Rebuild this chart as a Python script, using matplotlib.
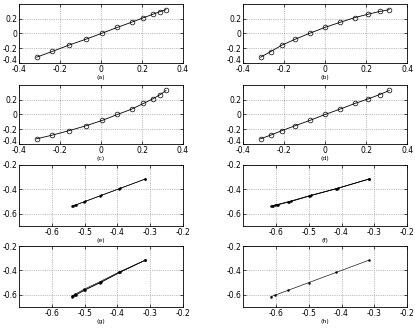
import matplotlib.pyplot as plt

# circle-marker panels (a)-(d)
xa = [-0.315, -0.238, -0.157, -0.073, 0.005, 0.080, 0.149, 0.207, 0.253, 0.289, 0.317]
ya = [-0.322, -0.244, -0.158, -0.077, 0.003, 0.083, 0.152, 0.213, 0.260, 0.297, 0.322]
xb = [-0.315, -0.266, -0.212, -0.147, -0.075, 0.0, 0.072, 0.145, 0.211, 0.266, 0.313]
yb = [-0.322, -0.246, -0.160, -0.079, 0.003, 0.083, 0.150, 0.215, 0.262, 0.298, 0.322]
yc = [-0.330, -0.280, -0.220, -0.153, -0.081, 0.0, 0.072, 0.149, 0.212, 0.270, 0.325]

# dot-marker panels (e)-(h)
pa = [-0.538, -0.528, -0.502, -0.453, -0.394, -0.315]
pa2 = [-0.535, -0.525, -0.499, -0.449, -0.391, -0.315]
pb = [-0.616, -0.603, -0.564, -0.500, -0.417, -0.316]
pb2 = [-0.612, -0.598, -0.559, -0.496, -0.414, -0.316]
pb3 = [-0.608, -0.594, -0.555, -0.492, -0.412, -0.316]

labels = ["(a)", "(b)", "(c)", "(d)", "(e)", "(f)", "(g)", "(h)"]

fig = plt.figure(figsize=(4.15, 3.28), dpi=100)
lefts = [0.046, 0.586]
w = 0.395
rows = [(0.808, 0.180), (0.561, 0.180), (0.311, 0.186), (0.064, 0.186)]

top_data = [(xa, [ya]), (xb, [yb]), (xa, [yc]), (xb, [yc])]
bot_data = [([pa, pa2], [pa, pa2]),
            ([pb, pb2, pb3], [pa, pa, pa2]),
            ([pa, pa2, pa], [pb, pb2, pb3]),
            ([pb], [pb])]

plt.rcParams['font.size'] = 5
for i in range(8):
    r, c = divmod(i, 2)
    b, h = rows[r]
    ax = fig.add_axes([lefts[c], b, w, h])
    if r < 2:
        x, ys = top_data[i]
        for y in ys:
            ax.plot(x, y, color='k', lw=0.6, marker='o', ms=3.4,
                    mfc='none', mec='k', mew=0.5)
        ax.set_xlim(-0.4, 0.4)
        ax.set_ylim(-0.4, 0.4)
        ax.set_xticks([-0.4, -0.2, 0, 0.2, 0.4])
        ax.set_xticklabels(["-0.4", "-0.2", "0", "0.2", "0.4"])
        ax.set_yticks([-0.4, -0.2, 0, 0.2])
        ax.set_yticklabels(["-0.4", "-0.2", "0", "0.2"])
        # keep the corner label clear of the x-axis "-0.4"
        ax.get_yticklabels()[0].set_va('baseline')
    else:
        xs, ys = bot_data[i - 4]
        for x, y in zip(xs, ys):
            ax.plot(x, y, color='k', lw=0.45, marker='.', ms=1.6)
        ax.set_xlim(-0.7, -0.2)
        ax.set_ylim(-0.7, -0.2)
        ax.set_xticks([-0.6, -0.5, -0.4, -0.3, -0.2])
        ax.set_xticklabels(["-0.6", "-0.5", "-0.4", "-0.3", "-0.2"])
        ax.set_yticks([-0.6, -0.4, -0.2])
        ax.set_yticklabels(["-0.6", "-0.4", "-0.2"])
    ax.grid(True, linestyle=':', color='0.5', lw=0.5)
    ax.tick_params(direction='in', length=2, width=0.5, pad=1.5,
                   labelsize=5.5, top=True, right=True)
    for s in ax.spines.values():
        s.set_linewidth(0.6)
    ax.set_xlabel(labels[i], fontsize=4.5, labelpad=0.5)

fig.savefig("out.png", dpi=100)
